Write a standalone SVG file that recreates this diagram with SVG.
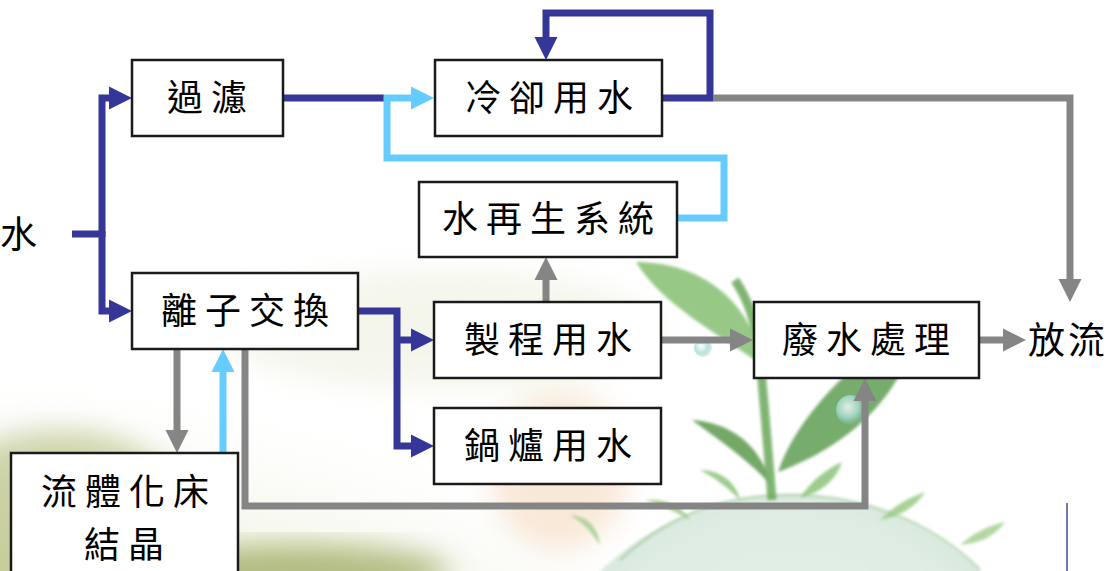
<svg xmlns="http://www.w3.org/2000/svg" width="1111" height="571" viewBox="0 0 1111 571">
  <defs>
    <style>
      .box { fill: #ffffff; stroke: #1a1a1a; stroke-width: 2.5; }
      .lbl { font-family: "Noto Sans CJK TC", "Noto Sans CJK SC", sans-serif; font-size: 36px; font-weight: 400; letter-spacing: 8px; fill: #000000; text-anchor: middle; }
      .free { font-family: "Noto Sans CJK TC", "Noto Sans CJK SC", sans-serif; font-size: 37px; font-weight: 400; fill: #000000; }
      .pipe { fill: none; stroke-width: 7; stroke-linejoin: miter; stroke-linecap: butt; }
      .navy { stroke: #363699; }
      .grey { stroke: #858585; }
      .sky { stroke: #66ccff; }
    </style>
    <marker id="arrNavy" markerUnits="userSpaceOnUse" markerWidth="24" markerHeight="24" refX="0" refY="11.5" orient="auto" overflow="visible">
      <path d="M0,0 L23,11.5 L0,23 Z" fill="#363699"/>
    </marker>
    <marker id="arrGrey" markerUnits="userSpaceOnUse" markerWidth="24" markerHeight="24" refX="0" refY="11.5" orient="auto" overflow="visible">
      <path d="M0,0 L23,11.5 L0,23 Z" fill="#858585"/>
    </marker>
    <marker id="arrSky" markerUnits="userSpaceOnUse" markerWidth="24" markerHeight="24" refX="0" refY="11.5" orient="auto" overflow="visible">
      <path d="M0,0 L23,11.5 L0,23 Z" fill="#66ccff"/>
    </marker>
    <filter id="soft" x="-20%" y="-20%" width="140%" height="140%">
      <feGaussianBlur stdDeviation="14"/>
    </filter>
    <filter id="softer" x="-20%" y="-20%" width="140%" height="140%">
      <feGaussianBlur stdDeviation="1.5"/>
    </filter>
    <radialGradient id="hill" cx="0.2" cy="0.95" r="0.8">
      <stop offset="0" stop-color="#a9b566"/>
      <stop offset="0.45" stop-color="#d5dca8"/>
      <stop offset="1" stop-color="#f4f4ea" stop-opacity="0"/>
    </radialGradient>
    <radialGradient id="globe" cx="0.5" cy="0.45" r="0.6">
      <stop offset="0" stop-color="#e8f2ef"/>
      <stop offset="0.7" stop-color="#d3e6d8"/>
      <stop offset="1" stop-color="#bcd9c2"/>
    </radialGradient>
    <radialGradient id="bubble" cx="0.4" cy="0.4" r="0.6">
      <stop offset="0" stop-color="#ffffff"/>
      <stop offset="0.6" stop-color="#a8dcd6"/>
      <stop offset="1" stop-color="#7cc0b0" stop-opacity="0.3"/>
    </radialGradient>
  </defs>

  <!-- backdrop: pale hill, seedling and globe -->
  <g id="backdrop">
    <rect width="1111" height="571" fill="#ffffff"/>
    <ellipse cx="260" cy="600" rx="640" ry="330" fill="url(#hill)" filter="url(#soft)"/>
    <ellipse cx="60" cy="520" rx="130" ry="90" fill="#a4ae62" opacity="0.5" filter="url(#soft)"/>
    <ellipse cx="300" cy="572" rx="150" ry="28" fill="#98a456" opacity="0.7" filter="url(#soft)"/>
    <ellipse cx="560" cy="470" rx="70" ry="80" fill="#f0c8a0" opacity="0.4" filter="url(#soft)"/>
    <ellipse cx="440" cy="330" rx="220" ry="60" fill="#eef0df" opacity="0.6" filter="url(#soft)"/>

    <circle cx="790" cy="770" r="275" fill="url(#globe)" opacity="0.75" filter="url(#softer)"/>
    <path d="M620,560 C680,505 740,495 790,495 C860,495 930,520 980,570" fill="none" stroke="#9cc79a" stroke-width="3" opacity="0.6" filter="url(#softer)"/>

    <g opacity="0.85" filter="url(#softer)">
      <path d="M772,500 C768,450 764,400 760,360 C756,320 748,300 735,280" fill="none" stroke="#6aa85a" stroke-width="9"/>
      <path d="M762,365 C720,335 662,305 636,262 C700,262 752,300 762,365 Z" fill="#86bf72"/>
      <path d="M778,472 C795,420 850,360 918,322 C905,395 850,445 778,472 Z" fill="#5e9e52"/>
      <path d="M770,484 C748,460 722,442 692,420 C730,422 762,446 770,484 Z" fill="#5c9a4e"/>
      <path d="M740,500 C725,485 715,478 700,470 C720,470 736,482 740,500 Z" fill="#8cc47a"/>
      <path d="M800,498 C812,480 825,470 842,462 C836,480 822,492 800,498 Z" fill="#8cc47a"/>
      <path d="M690,520 C672,510 660,505 645,500 C665,498 682,506 690,520 Z" fill="#9acb86"/>
      <path d="M880,520 C895,505 908,498 925,492 C915,508 900,516 880,520 Z" fill="#9acb86"/>
      <path d="M600,545 C590,530 582,522 570,515 C588,516 598,528 600,545 Z" fill="#a6d092"/>
      <path d="M960,545 C975,532 988,526 1005,522 C994,537 980,543 960,545 Z" fill="#a6d092"/>
    </g>
    <circle cx="703" cy="348" r="9" fill="url(#bubble)" opacity="0.8"/>
    <circle cx="851" cy="410" r="15" fill="url(#bubble)" opacity="0.8"/>
    <line x1="1067" y1="503" x2="1067" y2="571" stroke="#4a5a9a" stroke-width="2" opacity="0.8"/>
  </g>

  <!-- pipes -->
  <g id="connectors">
    <!-- raw water split -->
    <path class="pipe navy" d="M72,234 H102"/>
    <path class="pipe navy" d="M102,237 V98 H109" marker-end="url(#arrNavy)"/>
    <path class="pipe navy" d="M102,231 V311 H109" marker-end="url(#arrNavy)"/>
    <!-- filtration to cooling -->
    <path class="pipe navy" d="M283,98 H384"/>
    <path class="pipe sky" d="M676,218 H724 V158 H387 V98 H411" marker-end="url(#arrSky)"/>
    <!-- cooling recirculation -->
    <path class="pipe navy" d="M661,98 H710 V13 H546 V37" marker-end="url(#arrNavy)"/>
    <!-- cooling blowdown to discharge -->
    <path class="pipe grey" d="M713,98 H1070 V279" marker-end="url(#arrGrey)"/>
    <!-- ion exchange to process / boiler -->
    <path class="pipe navy" d="M358,311 H397 V446 H411" marker-end="url(#arrNavy)"/>
    <path class="pipe navy" d="M397,340 H411" marker-end="url(#arrNavy)"/>
    <!-- process to reuse -->
    <path class="pipe grey" d="M546,302 V280" marker-end="url(#arrGrey)"/>
    <!-- process to wastewater -->
    <path class="pipe grey" d="M661,340 H730" marker-end="url(#arrGrey)"/>
    <!-- wastewater to discharge -->
    <path class="pipe grey" d="M979,340 H1003" marker-end="url(#arrGrey)"/>
    <!-- ion exchange regenerant to wastewater -->
    <path class="pipe grey" d="M245,349 V506 H865 V401" marker-end="url(#arrGrey)"/>
    <!-- ion exchange <-> crystallizer -->
    <path class="pipe grey" d="M177,349 V430" marker-end="url(#arrGrey)"/>
    <path class="pipe sky" d="M223,453 V372" marker-end="url(#arrSky)"/>
  </g>

  <!-- units -->
  <g id="filter">
    <rect class="box" x="132" y="60" width="151" height="76"/>
    <text class="lbl" x="211" y="111">過濾</text>
  </g>
  <g id="cooling">
    <rect class="box" x="435" y="60" width="227" height="76"/>
    <text class="lbl" x="553" y="111">冷卻用水</text>
  </g>
  <g id="reuse">
    <rect class="box" x="419" y="182" width="258" height="75"/>
    <text class="lbl" x="552" y="232">水再生系統</text>
  </g>
  <g id="ion-exchange">
    <rect class="box" x="132" y="273" width="226" height="76"/>
    <text class="lbl" x="249" y="324">離子交換</text>
  </g>
  <g id="process">
    <rect class="box" x="434" y="302" width="227" height="76"/>
    <text class="lbl" x="552" y="353">製程用水</text>
  </g>
  <g id="boiler">
    <rect class="box" x="434" y="408" width="227" height="76"/>
    <text class="lbl" x="552" y="459">鍋爐用水</text>
  </g>
  <g id="wastewater">
    <rect class="box" x="754" y="302" width="225" height="76"/>
    <text class="lbl" x="870" y="353">廢水處理</text>
  </g>
  <g id="crystallizer">
    <rect class="box" x="11" y="453" width="227" height="130"/>
    <text class="lbl" x="129" y="505">流體化床</text>
    <text class="lbl" x="128" y="558">結晶</text>
  </g>
  <g id="source">
    <text class="free" x="0" y="248">水</text>
  </g>
  <g id="discharge">
    <text class="free" x="1028" y="354" letter-spacing="3">放流</text>
  </g>
</svg>
